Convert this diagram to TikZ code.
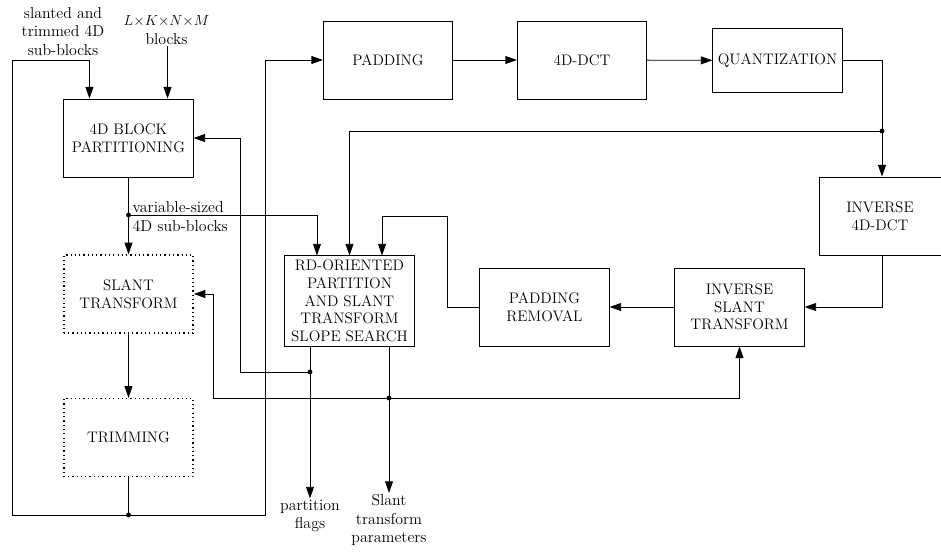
\documentclass[tikz,border=0pt,12pt]{standalone}
\usetikzlibrary{arrows.meta,positioning,calc}
\tikzset{
  blk/.style={draw, align=center, minimum width=106pt, minimum height=64pt, font=\fontsize{12.5pt}{14.5pt}\selectfont},
  dotblk/.style={blk, line width=1.1pt, dash pattern=on 1pt off 2.5pt},
  lbl/.style={align=center, inner sep=1pt, font=\fontsize{13pt}{15pt}\selectfont},
  jdot/.style={circle, fill, inner sep=0pt, minimum size=4pt},
}
\begin{document}
\begin{tikzpicture}[x=0.82pt, y=-0.82pt, line width=0.7pt, >={Triangle[length=9.5pt,width=6.5pt]}]
	\useasboundingbox (0,0) rectangle (941,551);
	
	% Blocks
	\node[blk] (part) at (128.5,138) {4D BLOCK\\PARTITIONING};
	\node[dotblk] (slant) at (128.5,294) {SLANT\\TRANSFORM};
	\node[dotblk] (trim) at (128.5,437.5) {TRIMMING};
	\node[blk] (pad) at (388,60) {PADDING};
	\node[blk] (dct) at (582,60) {4D-DCT};
	\node[blk, minimum height=53pt, inner sep=1.5pt] (quant) at (777.5,60.5) {QUANTIZATION};
	\node[blk, minimum width=100pt] (idct) at (880,216) {INVERSE\\4D-DCT};
	\node[blk] (islant) at (739.5,307) {INVERSE\\SLANT\\TRANSFORM};
	\node[blk] (prem) at (544.5,307) {PADDING\\REMOVAL};
	\node[blk, minimum height=74pt, inner sep=0.5pt] (rd) at (349.5,301) {RD-ORIENTED\\PARTITION\\AND SLANT\\TRANSFORM\\SLOPE SEARCH};
	
	% Inputs and outputs
	\node[lbl] (insub) at (63,31.5) {slanted and\\trimmed 4D\\sub-blocks};
	\node[lbl] (inblk) at (166.5,30) {{\fontsize{12pt}{15pt}\selectfont$L{\times}K{\times}N{\times}M$}\\blocks};
	\node[lbl] (flags) at (310,516) {partition\\flags};
	\node[lbl] (params) at (389,520) {Slant\\transform\\parameters};
	
	% Junctions
	\coordinate (jvar) at (128.5,215);
	\coordinate (jtrim) at (128.5,515);
	\coordinate (jq) at (882,131);
	\coordinate (jflag) at (310,372);
	\coordinate (jpar) at (389,398);
	\coordinate (insubin) at ($(part.north west)!0.2!(part.north east)$);
	\coordinate (inblkin) at ($(part.north west)!0.8!(part.north east)$);
	
	% Forward path
	\draw[->] (inblk.south -| inblkin) -- (inblkin);
	\draw[->] (part) -- (slant);
	\draw[->] (slant) -- (trim);
	\draw (trim) -- (jtrim);
	\draw[->] (jtrim) -| (12,60) -| (insubin);
	\draw[->] (jtrim) -| (265,60) -- (pad.west);
	\draw[->] (pad) -- (dct);
	\draw[->] (dct) -- (quant);
	\draw (quant.east) -| (jq);
	\draw[->] (jq) -- (jq |- idct.north);
	\draw[->] (jq) -| (rd.north);
	
	% Reconstruction loop
	\draw[->] (idct.south -| jq) |- (islant.east);
	\draw[->] (islant) -- (prem);
	\draw[->] (prem.west) -| (447,216) -| ($(rd.north west)!0.75!(rd.north east)$);
	\draw[->] (jvar) -| ($(rd.north west)!0.25!(rd.north east)$);
	\node[right, align=left, inner sep=3pt, font=\fontsize{13pt}{15.5pt}\selectfont] (varlbl) at ([yshift=-1pt]jvar) {variable-sized\\4D sub-blocks};
	
	% Search outputs
	\draw (jflag |- rd.south) -- (jflag);
	\draw[->] (jflag) -- (flags.north);
	\draw[->] (jflag) -| (240,138) -- (part.east);
	\draw (jpar |- rd.south) -- (jpar);
	\draw[->] (jpar) -- (params.north);
	\draw[->] (jpar) -| (213,294) -- (slant.east);
	\draw[->] (jpar) -| (islant.south);
	
	\foreach \j in {jvar, jtrim, jq, jflag, jpar}
		\node[jdot] at (\j) {};
\end{tikzpicture}
\end{document}
